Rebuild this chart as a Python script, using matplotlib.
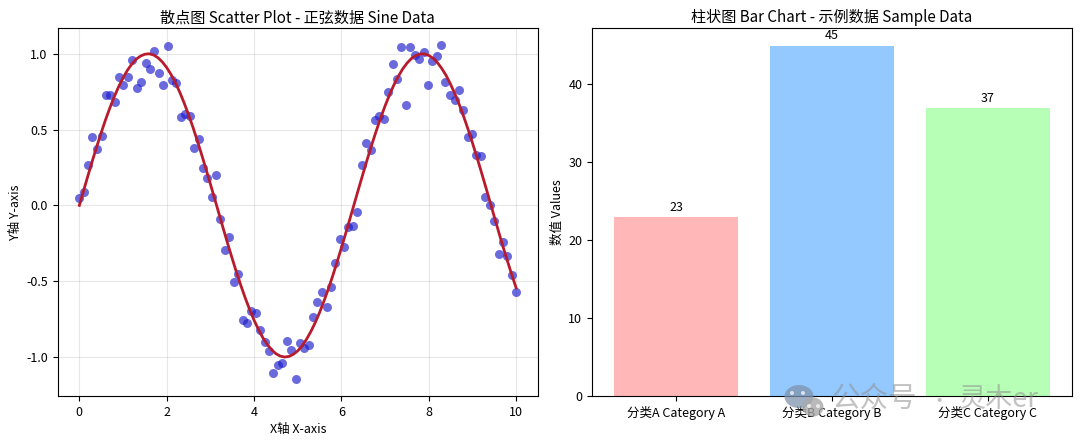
import matplotlib
matplotlib.use("Agg")
import matplotlib.pyplot as plt
from matplotlib.patches import Ellipse

plt.rcParams['font.family'] = ['Noto Sans CJK SC', 'DejaVu Sans']
plt.rcParams['axes.unicode_minus'] = False

# scatter samples
scatter_x = [0.00, 0.10, 0.20, 0.30, 0.40, 0.51, 0.61, 0.71, 0.81, 0.91,
             1.01, 1.11, 1.21, 1.31, 1.41, 1.52, 1.62, 1.72, 1.82, 1.92,
             2.02, 2.12, 2.22, 2.32, 2.42, 2.53, 2.63, 2.73, 2.83, 2.93,
             3.03, 3.13, 3.23, 3.33, 3.43, 3.54, 3.64, 3.74, 3.84, 3.94,
             4.04, 4.14, 4.24, 4.34, 4.44, 4.55, 4.65, 4.75, 4.85, 4.95,
             5.05, 5.15, 5.25, 5.35, 5.45, 5.56, 5.66, 5.76, 5.86, 5.96,
             6.06, 6.16, 6.26, 6.36, 6.46, 6.57, 6.67, 6.77, 6.87, 6.97,
             7.07, 7.17, 7.27, 7.37, 7.47, 7.58, 7.68, 7.78, 7.88, 7.98,
             8.08, 8.18, 8.28, 8.38, 8.48, 8.59, 8.69, 8.79, 8.89, 8.99,
             9.09, 9.19, 9.29, 9.39, 9.49, 9.60, 9.70, 9.80, 9.90, 10.00]
scatter_y = [0.047, 0.089, 0.265, 0.450, 0.370, 0.460, 0.725, 0.725, 0.680, 0.846,
             0.797, 0.850, 0.960, 0.774, 0.815, 0.940, 0.900, 1.020, 0.875, 0.797,
             1.050, 0.826, 0.806, 0.586, 0.600, 0.589, 0.377, 0.439, 0.245, 0.180,
             0.054, 0.200, -0.087, -0.294, -0.206, -0.503, -0.454, -0.756, -0.773, -0.696,
             -0.707, -0.822, -0.900, -0.960, -1.108, -1.055, -1.042, -0.892, -0.952, -1.145,
             -0.910, -0.943, -0.923, -0.736, -0.635, -0.569, -0.670, -0.536, -0.377, -0.221,
             -0.272, -0.140, -0.133, -0.042, 0.265, 0.413, 0.366, 0.564, 0.589, 0.569,
             0.745, 0.930, 0.833, 1.042, 0.665, 1.044, 0.995, 0.965, 1.009, 0.791,
             0.954, 0.987, 1.055, 0.811, 0.725, 0.696, 0.762, 0.632, 0.454, 0.472,
             0.335, 0.329, 0.058, 0.001, -0.105, -0.318, -0.239, -0.335, -0.457, -0.569]

# smooth curve through the samples
curve_x = [0.0, 0.1, 0.2, 0.3, 0.4, 0.5, 0.6, 0.7, 0.8, 0.9,
           1.0, 1.1, 1.2, 1.3, 1.4, 1.5, 1.6, 1.7, 1.8, 1.9,
           2.0, 2.1, 2.2, 2.3, 2.4, 2.5, 2.6, 2.7, 2.8, 2.9,
           3.0, 3.1, 3.2, 3.3, 3.4, 3.5, 3.6, 3.7, 3.8, 3.9,
           4.0, 4.1, 4.2, 4.3, 4.4, 4.5, 4.6, 4.7, 4.8, 4.9,
           5.0, 5.1, 5.2, 5.3, 5.4, 5.5, 5.6, 5.7, 5.8, 5.9,
           6.0, 6.1, 6.2, 6.3, 6.4, 6.5, 6.6, 6.7, 6.8, 6.9,
           7.0, 7.1, 7.2, 7.3, 7.4, 7.5, 7.6, 7.7, 7.8, 7.9,
           8.0, 8.1, 8.2, 8.3, 8.4, 8.5, 8.6, 8.7, 8.8, 8.9,
           9.0, 9.1, 9.2, 9.3, 9.4, 9.5, 9.6, 9.7, 9.8, 9.9, 10.0]
curve_y = [0.000, 0.100, 0.199, 0.296, 0.389, 0.479, 0.565, 0.644, 0.717, 0.783,
           0.841, 0.891, 0.932, 0.964, 0.985, 0.997, 1.000, 0.992, 0.974, 0.946,
           0.909, 0.863, 0.808, 0.746, 0.675, 0.598, 0.516, 0.427, 0.335, 0.239,
           0.141, 0.042, -0.058, -0.158, -0.256, -0.351, -0.443, -0.530, -0.612, -0.688,
           -0.757, -0.818, -0.872, -0.916, -0.952, -0.978, -0.994, -1.000, -0.996, -0.982,
           -0.959, -0.926, -0.883, -0.832, -0.773, -0.706, -0.631, -0.551, -0.465, -0.374,
           -0.279, -0.182, -0.083, 0.017, 0.117, 0.215, 0.312, 0.405, 0.494, 0.578,
           0.657, 0.729, 0.794, 0.850, 0.899, 0.938, 0.968, 0.988, 0.999, 0.999,
           0.989, 0.970, 0.941, 0.902, 0.855, 0.798, 0.734, 0.663, 0.585, 0.501,
           0.412, 0.319, 0.223, 0.125, 0.025, -0.075, -0.175, -0.273, -0.366, -0.458, -0.544]

categories = ['分类A Category A', '分类B Category B', '分类C Category C']
values = [23, 45, 37]
bar_colors = ['#ff9999', '#66b3ff', '#99ff99']

W, H = 1080, 444
fig = plt.figure(figsize=(W / 100, H / 100), dpi=100)


def axes_px(left, top, right, bottom):
    return fig.add_axes([left / W, 1 - bottom / H, (right - left) / W, (bottom - top) / H])


# left panel
ax1 = axes_px(57.5, 28, 538, 396)
ax1.scatter(scatter_x, scatter_y, s=42, color='#1a1acc', alpha=0.65, linewidths=0, zorder=2)
ax1.plot(curve_x, curve_y, color='#b81c2c', linewidth=2, zorder=3)
ax1.set_xlim(-0.5, 10.5)
ax1.set_ylim(-1.257, 1.17)
ax1.set_yticks([-1.0, -0.5, 0.0, 0.5, 1.0])
ax1.set_title('散点图 Scatter Plot - 正弦数据 Sine Data', fontsize=10.9, pad=4)
ax1.set_xlabel('X轴 X-axis', fontsize=9, labelpad=3)
ax1.set_ylabel('Y轴 Y-axis', fontsize=9, labelpad=3)
ax1.grid(True, alpha=0.3)
ax1.tick_params(labelsize=9)

# right panel
ax2 = axes_px(592, 28, 1072, 396)
bars = ax2.bar(categories, values, color=bar_colors, alpha=0.7)
for bar, value in zip(bars, values):
    ax2.text(bar.get_x() + bar.get_width() / 2, value + 0.4, str(value),
             ha='center', va='bottom', fontsize=9)
ax2.set_xlim(-0.54, 2.54)
ax2.set_ylim(0, 47.25)
ax2.set_title('柱状图 Bar Chart - 示例数据 Sample Data', fontsize=10.9, pad=4)
ax2.set_ylabel('数值 Values', fontsize=9, labelpad=3)
ax2.tick_params(labelsize=9)

# watermark in the lower right corner
wm = fig.add_axes([0, 0, 1, 1], zorder=10)
wm.set_xlim(0, W)
wm.set_ylim(H, 0)
wm.axis('off')
wm.add_patch(Ellipse((799, 396.5), 29, 23, color='#7f93ad', alpha=0.75, lw=0))
wm.add_patch(Ellipse((813, 407), 21, 19, color='#a8a8a8', alpha=0.8, lw=0))
for ex, ey in [(792, 393), (803, 393), (809, 406), (818, 406)]:
    wm.add_patch(Ellipse((ex, ey), 4, 4, color='white', alpha=0.7, lw=0))
wm.text(832, 399, '公众号', fontsize=20.5, color='#909090', alpha=0.55, va='center', ha='left',
        fontweight='light')
wm.text(939, 401, '·', fontsize=14, color='#909090', alpha=0.55, va='center', ha='center')
wm.text(959, 399, '灵木er', fontsize=19.5, color='#909090', alpha=0.55, va='center', ha='left',
        fontweight='light')

fig.savefig('out.png', dpi=100)
